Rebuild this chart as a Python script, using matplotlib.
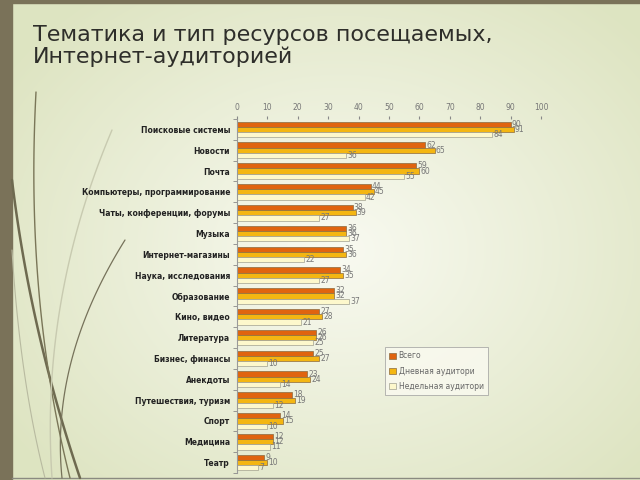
import numpy as np
import matplotlib
matplotlib.use('Agg')
import matplotlib.pyplot as plt

# data
categories = ['Поисковые системы', 'Новости', 'Почта', 'Компьютеры, программирование',
              'Чаты, конференции, форумы', 'Музыка', 'Интернет-магазины', 'Наука, исследования',
              'Образование', 'Кино, видео', 'Литература', 'Бизнес, финансы', 'Анекдоты',
              'Путешествия, туризм', 'Спорт', 'Медицина', 'Театр']
total = [90, 62, 59, 44, 38, 36, 35, 34, 32, 27, 26, 25, 23, 18, 14, 12, 9]
daily = [91, 65, 60, 45, 39, 36, 36, 35, 32, 28, 26, 27, 24, 19, 15, 12, 10]
weekly = [84, 36, 55, 42, 27, 37, 22, 27, 37, 21, 25, 10, 14, 12, 10, 11, 7]
series_names = ['Всего', 'Дневная аудитори', 'Недельная аудитори']
colors = ['#e0640f', '#f4b612', '#fdf8cc']
xticks = [0, 10, 20, 30, 40, 50, 60, 70, 80, 90, 100]

fig = plt.figure(figsize=(6.4, 4.8), dpi=100)

# slide background + decorations
bg = fig.add_axes([0, 0, 1, 1], zorder=0)
bg.set_xlim(0, 640)
bg.set_ylim(480, 0)
bg.axis('off')
yy, xx = np.mgrid[0:480, 0:640]
d = np.sqrt(((xx - 340) / 400.0) ** 2 + ((yy - 250) / 320.0) ** 2)
d = np.clip(d, 0, 1)
c_in = np.array([0.975, 0.98, 0.945])
c_out = np.array([0.87, 0.895, 0.76])
img = c_in[None, None, :] * (1 - d[..., None]) + c_out[None, None, :] * d[..., None]
bg.imshow(img, extent=(0, 640, 480, 0), aspect='auto')
bg.fill_between([0, 12], 0, 480, color='#7a7259')
bg.fill_between([0, 640], 0, 3, color='#7a7259')
bg.plot([12, 640], [478, 478], color='#8a8a80', lw=1)


def bez(p0, p1, p2, **kw):
    t = np.linspace(0, 1, 60)
    x = (1 - t) ** 2 * p0[0] + 2 * (1 - t) * t * p1[0] + t ** 2 * p2[0]
    y = (1 - t) ** 2 * p0[1] + 2 * (1 - t) * t * p1[1] + t ** 2 * p2[1]
    bg.plot(x, y, solid_capstyle='round', **kw)


bez((12, 180), (30, 330), (80, 478), color='#6e6a50', lw=1.8)
bez((36, 92), (25, 300), (70, 478), color='#7a7658', lw=1.0)
bez((112, 130), (40, 300), (52, 478), color='#c8cab0', lw=1.0)
bez((125, 240), (50, 360), (62, 478), color='#76725a', lw=0.9)
bez((12, 250), (20, 380), (45, 478), color='#b8baa0', lw=0.8)

fig.text(0.052, 0.905, 'Тематика и тип ресурсов посещаемых,\nИнтернет-аудиторией',
         fontsize=16, color='#2e2e2a', va='center', ha='left', linespacing=1.1)

# chart
ax = fig.add_axes([237 / 640, 1 - 473 / 480, (541 - 237) / 640, (473 - 119) / 480], zorder=1)
ax.patch.set_alpha(0)
y = np.arange(len(categories))
h = 0.25
series = [total, daily, weekly]
for i, vals in enumerate(series):
    bars = ax.barh(y + (i - 1) * h, vals, height=h, color=colors[i],
                   edgecolor='#8a6a40' if i < 2 else '#a0a090', linewidth=0.5,
                   label=series_names[i])
    for b, v in zip(bars, vals):
        ax.text(b.get_width() + 0.4, b.get_y() + b.get_height() / 2, str(v),
                fontsize=5.5, color='#777777', va='center', ha='left')

ax.set_ylim(len(categories) - 0.5, -0.5)
ax.set_xlim(0, 100)
ax.xaxis.tick_top()
ax.set_xticks(xticks)
ax.tick_params(axis='x', labelsize=5.5, labelcolor='#777777', length=2, color='#888888', pad=3)
ax.set_yticks(y)
ax.set_yticklabels(categories, fontsize=5.5, fontweight='bold', color='#222222')
ax.tick_params(axis='y', length=0, pad=5)
ax.set_yticks(np.arange(len(categories) + 1) - 0.5, minor=True)
ax.tick_params(axis='y', which='minor', length=3, color='#888888')
for s in ['right', 'bottom', 'top']:
    ax.spines[s].set_visible(False)
ax.spines['left'].set_color('#999999')
ax.spines['left'].set_linewidth(0.8)

leg = ax.legend(loc='upper left', bbox_to_anchor=(381 / 640, 1 - 343 / 480),
                bbox_transform=fig.transFigure, fontsize=5.5, frameon=True,
                handlelength=0.8, handleheight=0.8, borderpad=0.6, labelspacing=0.8,
                fancybox=False, handletextpad=0.4)
leg.get_frame().set_edgecolor('#999999')
leg.get_frame().set_facecolor('#fafaf0')
leg.get_frame().set_linewidth(0.6)
for t in leg.get_texts():
    t.set_color('#666666')

fig.savefig('out.png', dpi=100)
